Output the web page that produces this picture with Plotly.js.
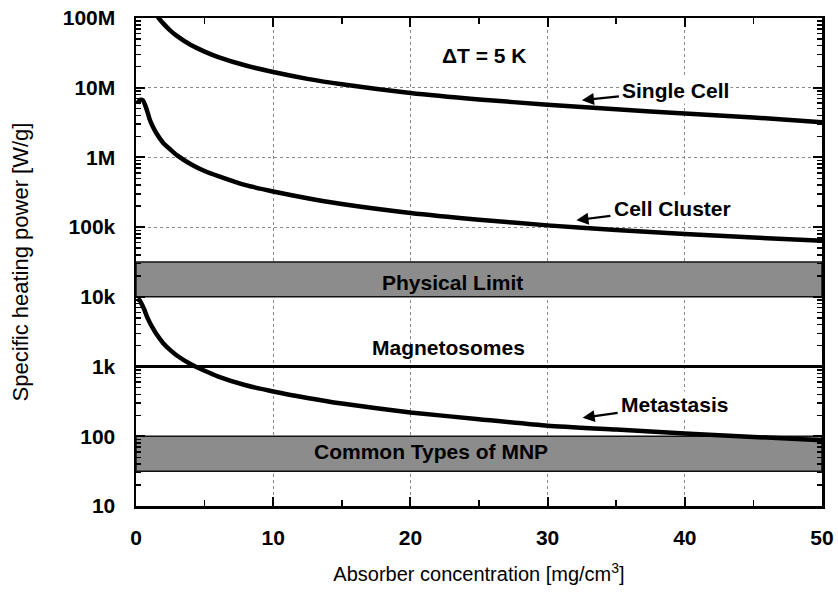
<!DOCTYPE html>
<html>
<head>
<meta charset="utf-8">
<script src="https://cdn.plot.ly/plotly-3.0.1.min.js"></script>
<style>html,body{margin:0;padding:0;background:#fff;}#chart{width:838px;height:597px;}</style>
</head>
<body>
<div id="chart"></div>
<script>
// ---- Data ----
const singleCellX = [1.5, 1.65, 2, 2.5, 3, 4, 5, 6, 8, 10, 12.5, 15, 20, 25, 30, 35, 40, 45, 50];
const singleCellY = [1.1e8, 1.0e8, 8.3e7, 6.6e7, 5.5e7, 4.1e7, 3.3e7, 2.75e7, 2.08e7, 1.68e7, 1.34e7, 1.12e7, 8.4e6, 6.8e6, 5.7e6, 4.9e6, 4.25e6, 3.75e6, 3.2e6];

const cellClusterX = [0.1, 0.3, 0.5, 0.7, 0.85, 1, 1.25, 1.5, 2, 2.5, 3, 4, 5, 6, 8, 10, 12.5, 15, 20, 25, 30, 35, 40, 45, 50];
const cellClusterY = [6.0e6, 6.7e6, 6.6e6, 5.4e6, 4.4e6, 3.5e6, 2.7e6, 2.2e6, 1.6e6, 1.3e6, 1.07e6, 8.0e5, 6.4e5, 5.4e5, 4.0e5, 3.25e5, 2.6e5, 2.15e5, 1.6e5, 1.28e5, 1.06e5, 9.1e4, 8.0e4, 7.1e4, 6.4e4];

const metastasisX = [0.1, 0.25, 0.4, 0.6, 0.8, 1, 1.25, 1.5, 2, 2.5, 3, 4, 5, 6, 8, 10, 12.5, 15, 20, 25, 30, 35, 40, 45, 50];
const metastasisY = [9.2e3, 9.0e3, 8.0e3, 6.6e3, 5.2e3, 4.3e3, 3.5e3, 2.9e3, 2.15e3, 1.72e3, 1.43e3, 1.08e3, 8.7e2, 7.2e2, 5.4e2, 4.4e2, 3.55e2, 2.95e2, 2.2e2, 1.76e2, 1.42e2, 1.25e2, 1.1e2, 9.8e1, 8.8e1];

const magnetosomesX = [0, 50];
const magnetosomesY = [1000, 1000];

const physicalLimitX = [0, 50, 50, 0, 0];
const physicalLimitY = [1e4, 1e4, 3.16e4, 3.16e4, 1e4];

const commonMnpX = [0, 50, 50, 0, 0];
const commonMnpY = [31.6, 31.6, 100, 100, 31.6];

const xTickVals = [0, 10, 20, 30, 40, 50];
const yTickVals = [10, 100, 1e3, 1e4, 1e5, 1e6, 1e7, 1e8];
const yTickText = ['10', '100', '1k', '10k', '100k', '1M', '10M', '100M'];

// ---- Styles ----
const FONT = 'Liberation Sans, Arial, sans-serif';
const curve = {color: '#000', width: 4.5, shape: 'spline', smoothing: 0.6};
const bandStyle = {mode: 'lines', fill: 'toself', fillcolor: '#8c8c8c', line: {color: '#111', width: 1.5}, hoverinfo: 'skip', showlegend: false};

const traces = [
  Object.assign({x: physicalLimitX, y: physicalLimitY, type: 'scatter'}, bandStyle),
  Object.assign({x: commonMnpX, y: commonMnpY, type: 'scatter'}, bandStyle),
  {x: magnetosomesX, y: magnetosomesY, type: 'scatter', mode: 'lines', line: {color: '#000', width: 3}, showlegend: false},
  {x: singleCellX, y: singleCellY, type: 'scatter', mode: 'lines', line: curve, showlegend: false},
  {x: cellClusterX, y: cellClusterY, type: 'scatter', mode: 'lines', line: curve, showlegend: false},
  {x: metastasisX, y: metastasisY, type: 'scatter', mode: 'lines', line: curve, showlegend: false}
];

const labelFont = {family: FONT, size: 21, color: '#000', weight: 700};
const L = Math.log10;
function txt(text, x, y, extra) {
  return Object.assign({text: text, x: x, y: L(y), xref: 'x', yref: 'y', showarrow: false, font: labelFont}, extra || {});
}
function arrowTxt(text, x, y, ax, ay) {
  return {text: text, x: x, y: L(y), xref: 'x', yref: 'y', showarrow: true, ax: ax, ay: ay,
    arrowhead: 2, arrowsize: 1.1, arrowwidth: 2.2, arrowcolor: '#000', standoff: 0, startstandoff: 2,
    font: labelFont, bgcolor: '#fff'};
}

const annotations = [
  txt('\u0394T = 5 K', 25.4, 2.9e7),
  arrowTxt('Single Cell', 32.5, 6.6e6, 94, -10),
  arrowTxt('Cell Cluster', 32.1, 1.26e5, 96, -12),
  arrowTxt('Metastasis', 32.55, 184, 92, -13),
  txt('Physical Limit', 23.1, 1.63e4),
  txt('Magnetosomes', 22.8, 1850),
  txt('Common Types of MNP', 21.5, 60)
];

const axisCommon = {
  ticks: 'inside', ticklen: 9, tickwidth: 2, tickcolor: '#000',
  showline: true, linewidth: 2.5, linecolor: '#000', mirror: 'allticks',
  showgrid: true, gridcolor: '#8a8a8a', gridwidth: 1, griddash: 'dot',
  zeroline: false, automargin: false,
  tickfont: {family: FONT, size: 21, color: '#000', weight: 700}
};

const layout = {
  width: 838, height: 597,
  margin: {l: 136, r: 16, t: 18, b: 91},
  paper_bgcolor: '#fff', plot_bgcolor: '#fff',
  showlegend: false,
  font: {family: FONT, color: '#000'},
  xaxis: Object.assign({}, axisCommon, {
    range: [0, 50], tickmode: 'array', tickvals: xTickVals, ticklabelstandoff: 11,
    minor: {dtick: 5, ticks: 'inside', ticklen: 6, tickwidth: 1.5, tickcolor: '#000', showgrid: false},
    title: {text: 'Absorber concentration [mg/cm<sup>3</sup>]', font: {family: FONT, size: 20, color: '#000'}, standoff: 20}
  }),
  yaxis: Object.assign({}, axisCommon, {
    type: 'log', range: [1, 8], tickmode: 'array', tickvals: yTickVals, ticktext: yTickText, ticklabelstandoff: 14,
    minor: {dtick: 'D1', ticks: 'inside', ticklen: 5, tickwidth: 1.5, tickcolor: '#000', showgrid: false},
    title: {text: 'Specific heating power [W/g]', font: {family: FONT, size: 22, color: '#000'}, standoff: 28}
  }),
  annotations: annotations
};

Plotly.newPlot('chart', traces, layout, {displayModeBar: false, staticPlot: true});
</script>
</body>
</html>
